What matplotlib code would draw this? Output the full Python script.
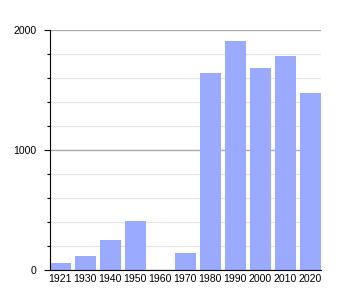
import matplotlib.pyplot as plt
import numpy as np

years = ["1921", "1930", "1940", "1950", "1960", "1970", "1980", "1990", "2000", "2010", "2020"]
population = [61, 117, 253, 411, 0, 142, 1644, 1908, 1683, 1786, 1478]

plt.rcParams["font.family"] = ["Liberation Sans", "DejaVu Sans"]

fig = plt.figure(figsize=(3.5, 3.0), dpi=100)
ax = fig.add_axes([50 / 350, 30 / 300, 270.7 / 350, 239.7 / 300])

bar_w = 0.83
x = np.arange(len(years))
ax.bar(x, population, width=bar_w, align="edge", color="#99aaff", zorder=3)

ax.set_xlim(0, len(years) - 1 + bar_w)
ax.set_ylim(0, 2000)

ax.set_yticks([0, 1000, 2000])
ax.set_yticks(np.arange(0, 2001, 200), minor=True)
ax.set_xticks(x + bar_w / 2)
ax.set_xticklabels(years)

ax.grid(True, axis="y", which="major", color="#aaaaaa", linewidth=1.0, zorder=1)
ax.grid(True, axis="y", which="minor", color="#e4e4e4", linewidth=0.8, zorder=0)

for side in ("top", "right"):
    ax.spines[side].set_visible(False)
ax.spines["left"].set_color("black")
ax.spines["bottom"].set_color("black")
ax.spines["left"].set_zorder(4)
ax.spines["bottom"].set_zorder(4)

ax.tick_params(axis="y", which="major", length=4.5, width=0.8, labelsize=7.6, pad=5)
ax.tick_params(axis="y", which="minor", length=2.5, width=0.8)
ax.tick_params(axis="x", length=0, labelsize=7.6, pad=3)

fig.savefig("out.png", dpi=100)
